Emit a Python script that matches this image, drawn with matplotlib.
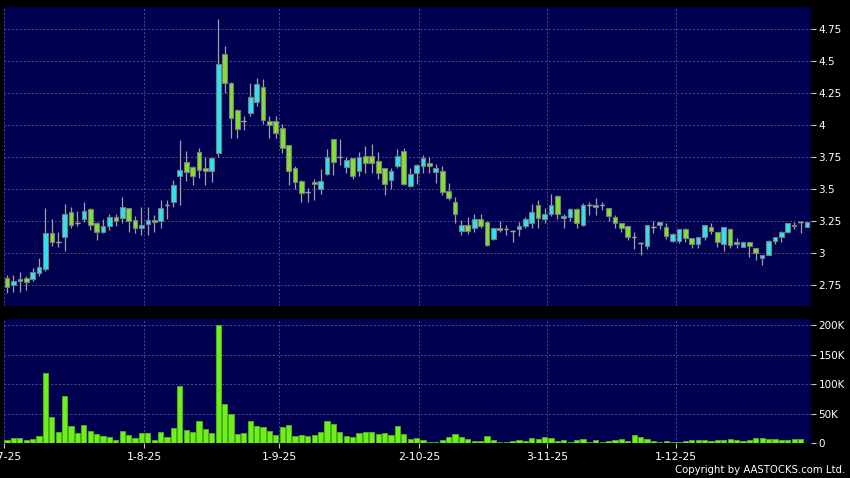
import matplotlib
matplotlib.use("Agg")
import matplotlib.pyplot as plt
import numpy as np

# daily candles, Jul-Dec 2025
opens = [2.805, 2.75, 2.785, 2.81, 2.80, 2.845, 2.88, 3.16, 3.09, 3.13,
         3.32, 3.24, 3.27, 3.345, 3.24, 3.17, 3.21, 3.28, 3.277, 3.35,
         3.258, 3.195, 3.232, 3.26, 3.25, 3.378, 3.40, 3.606, 3.716, 3.677,
         3.794, 3.67, 3.645, 3.78, 4.555, 4.333, 4.12, 4.036, 4.10, 4.18,
         4.30, 4.036, 4.036, 3.977, 3.846, 3.665, 3.567, 3.475, 3.555, 3.505,
         3.617, 3.89, 3.755, 3.677, 3.742, 3.645, 3.76, 3.76, 3.72, 3.664,
         3.573, 3.685, 3.80, 3.526, 3.63, 3.685, 3.708, 3.638, 3.643, 3.49,
         3.40, 3.177, 3.218, 3.195, 3.27, 3.247, 3.109, 3.195, 3.187, 3.177,
         3.193, 3.216, 3.24, 3.375, 3.27, 3.305, 3.45, 3.273, 3.286, 3.344,
         3.22, 3.377, 3.36, 3.38, 3.352, 3.28, 3.234, 3.214, 3.13, 3.078,
         3.06, 3.208, 3.218, 3.205, 3.098, 3.098, 3.193, 3.12, 3.07, 3.13,
         3.205, 3.17, 3.07, 3.193, 3.07, 3.052, 3.09, 3.04, 2.96, 2.984,
         3.098, 3.125, 3.169, 3.218, 3.243, 3.205]
highs = [2.83, 2.83, 2.85, 2.82, 2.885, 2.96, 3.35, 3.27, 3.17, 3.385,
         3.36, 3.33, 3.40, 3.35, 3.245, 3.27, 3.31, 3.31, 3.44, 3.355,
         3.29, 3.36, 3.36, 3.30, 3.42, 3.42, 3.57, 3.885, 3.80, 3.68,
         3.825, 3.75, 3.75, 4.83, 4.62, 4.34, 4.125, 4.07, 4.33, 4.37,
         4.36, 4.07, 4.07, 4.01, 3.85, 3.68, 3.57, 3.51, 3.58, 3.66,
         3.815, 3.89, 3.89, 3.755, 3.745, 3.79, 3.84, 3.855, 3.79, 3.665,
         3.67, 3.815, 3.825, 3.664, 3.70, 3.77, 3.75, 3.70, 3.68, 3.55,
         3.44, 3.26, 3.28, 3.31, 3.31, 3.25, 3.20, 3.25, 3.22, 3.185,
         3.247, 3.285, 3.383, 3.42, 3.355, 3.46, 3.455, 3.31, 3.355, 3.355,
         3.39, 3.40, 3.435, 3.40, 3.355, 3.30, 3.24, 3.215, 3.17, 3.09,
         3.22, 3.25, 3.245, 3.24, 3.16, 3.193, 3.195, 3.12, 3.13, 3.218,
         3.24, 3.17, 3.205, 3.195, 3.12, 3.09, 3.09, 3.04, 2.99, 3.10,
         3.125, 3.175, 3.24, 3.245, 3.25, 3.243]
lows = [2.69, 2.70, 2.70, 2.71, 2.78, 2.82, 2.86, 3.055, 3.05, 3.02,
        3.20, 3.21, 3.245, 3.18, 3.10, 3.16, 3.18, 3.21, 3.24, 3.165,
        3.16, 3.14, 3.14, 3.17, 3.20, 3.27, 3.365, 3.377, 3.567, 3.53,
        3.59, 3.53, 3.56, 3.755, 4.255, 3.90, 3.903, 3.96, 4.07, 4.15,
        4.01, 3.90, 3.90, 3.78, 3.53, 3.50, 3.40, 3.40, 3.42, 3.46,
        3.61, 3.61, 3.69, 3.625, 3.58, 3.606, 3.625, 3.625, 3.58, 3.456,
        3.50, 3.664, 3.535, 3.52, 3.54, 3.625, 3.625, 3.55, 3.456, 3.415,
        3.24, 3.14, 3.15, 3.165, 3.195, 3.06, 3.10, 3.166, 3.14, 3.09,
        3.137, 3.195, 3.20, 3.20, 3.235, 3.29, 3.27, 3.20, 3.25, 3.20,
        3.215, 3.30, 3.30, 3.34, 3.25, 3.20, 3.17, 3.10, 3.03, 2.99,
        3.035, 3.16, 3.19, 3.115, 3.085, 3.08, 3.09, 3.04, 3.04, 3.10,
        3.15, 3.05, 3.02, 3.04, 3.045, 3.052, 2.97, 2.95, 2.91, 2.984,
        3.07, 3.09, 3.155, 3.19, 3.16, 3.205]
closes = [2.74, 2.78, 2.80, 2.775, 2.85, 2.89, 3.16, 3.09, 3.09, 3.305,
          3.22, 3.24, 3.33, 3.22, 3.165, 3.21, 3.28, 3.255, 3.36, 3.255,
          3.20, 3.22, 3.258, 3.245, 3.35, 3.378, 3.53, 3.65, 3.638, 3.606,
          3.65, 3.645, 3.745, 4.48, 4.33, 4.06, 3.97, 4.036, 4.22, 4.32,
          4.04, 4.0, 3.94, 3.82, 3.64, 3.56, 3.47, 3.475, 3.54, 3.563,
          3.75, 3.716, 3.755, 3.73, 3.606, 3.75, 3.703, 3.705, 3.63, 3.54,
          3.645, 3.76, 3.54, 3.62, 3.69, 3.742, 3.685, 3.664, 3.48, 3.43,
          3.31, 3.221, 3.177, 3.27, 3.216, 3.067, 3.197, 3.18, 3.187, 3.177,
          3.214, 3.27, 3.32, 3.278, 3.305, 3.38, 3.31, 3.29, 3.344, 3.234,
          3.375, 3.377, 3.375, 3.38, 3.29, 3.24, 3.195, 3.13, 3.13, 3.078,
          3.22, 3.208, 3.243, 3.135, 3.148, 3.193, 3.122, 3.07, 3.13, 3.218,
          3.177, 3.086, 3.205, 3.065, 3.09, 3.09, 3.057, 3.0, 2.984, 3.098,
          3.125, 3.164, 3.234, 3.21, 3.243, 3.243]
volumes_k = [5.7, 8.5, 8.5, 5.7, 7.4, 12.5, 119, 44, 20, 80,
             30, 17.6, 31.7, 21, 15.3, 12.5, 10.8, 5.7, 20.4, 14.7,
             9.6, 17.6, 18, 6.2, 19.3, 11.3, 26, 97, 22, 19.3,
             37.4, 24.4, 17, 201, 67, 49, 15.9, 17.6, 38, 29.5,
             28.3, 20.4, 13.6, 28.3, 31, 12.5, 14, 12.5, 13.6, 18.7,
             37.4, 32.3, 18.7, 12.5, 10.8, 17, 19.3, 19.8, 15.9, 17.6,
             14.2, 29, 15.9, 7.9, 8.5, 5.1, 2.3, 2.3, 6.2, 11.3,
             15.9, 10.8, 7.4, 4, 3.4, 12.5, 5.1, 2.8, 2.8, 3.4,
             6.2, 4.5, 9, 7.9, 10.2, 9, 3.4, 5.1, 2.8, 5.1,
             7.9, 2.3, 5.7, 1.7, 4.5, 5.1, 6.8, 4, 13.6, 10.8,
             7.9, 4.5, 2.3, 3.4, 2.8, 2.8, 3.4, 5.7, 5.1, 5.1,
             4, 5.7, 5.1, 7.4, 5.1, 4.5, 5.7, 9, 9, 7.9,
             7.4, 6.2, 6.2, 6.8, 6.8, 0]

date_labels = ["2-7-25", "1-8-25", "1-9-25", "2-10-25", "3-11-25", "1-12-25"]
date_pos = [-0.45, 21.45, 42.55, 64.4, 84.4, 104.5]
price_ticks = [2.75, 3, 3.25, 3.5, 3.75, 4, 4.25, 4.5, 4.75]
price_labels = ["2.75", "3", "3.25", "3.5", "3.75", "4", "4.25", "4.5", "4.75"]
vol_ticks = [0, 50000, 100000, 150000, 200000]
vol_labels = ["0", "50K", "100K", "150K", "200K"]

NAVY = "#000050"
GRID = "#4a4a85"
UP = "#2ae4f2"
DOWN = "#80e22e"
EDGE = "#7a7a7a"
WICK = "#a0a0a0"

o = np.array(opens)
h = np.array(highs)
l = np.array(lows)
c = np.array(closes)
v = np.array(volumes_k) * 1000
x = np.arange(len(o))

fig = plt.figure(figsize=(8.5, 4.78), dpi=100, facecolor="black")
ax1 = fig.add_axes([4 / 850, 1 - 306 / 478, 806.7 / 850, 299.3 / 478])
ax2 = fig.add_axes([4 / 850, 1 - 443.3 / 478, 806.7 / 850, 124.3 / 478])

for ax in (ax1, ax2):
    ax.set_facecolor(NAVY)
    for s in ax.spines.values():
        s.set_visible(False)
    ax.set_xlim(-0.47, 125.58)
    ax.set_xticks(date_pos)
    ax.grid(True, color=GRID, linestyle=(0, (2, 2)), linewidth=0.7)
    ax.set_axisbelow(True)
    ax.yaxis.tick_right()
    ax.tick_params(axis="y", colors="#c8c8c8", labelcolor="white", labelsize=7.5,
                   length=3.5, width=0.8, pad=2)

# candles
colors = np.where(c > o, UP, DOWN)
ax1.vlines(x, l, h, color=WICK, linewidth=0.9, zorder=2)
body_h = np.abs(c - o)
body_b = np.minimum(o, c)
ax1.bar(x, body_h, bottom=body_b, width=0.72, color=colors, edgecolor=EDGE,
        linewidth=0.8, zorder=3)
doji = body_h == 0
ax1.hlines(c[doji], x[doji] - 0.36, x[doji] + 0.36, color=WICK, linewidth=1.0, zorder=3)

ax1.set_ylim(2.588, 4.927)
ax1.set_yticks(price_ticks)
ax1.set_yticklabels(price_labels)
ax1.tick_params(axis="x", length=0, labelbottom=False)

# volume
ax2.bar(x, v, width=0.82, color="#6ef01a", edgecolor="#4fb812", linewidth=0.6, zorder=3)
ax2.set_ylim(0, 211000)
ax2.set_yticks(vol_ticks)
ax2.set_yticklabels(vol_labels)
ax2.set_xticklabels(date_labels)
ax2.tick_params(axis="x", colors="#c8c8c8", labelcolor="white", labelsize=7.8,
                length=3.5, width=0.8, pad=3)

fig.text(845 / 850, 1 - 470 / 478, "Copyright by AASTOCKS.com Ltd.", color="white",
         fontsize=7.3, ha="right", va="center")

fig.savefig("out.png", dpi=100, facecolor="black")
